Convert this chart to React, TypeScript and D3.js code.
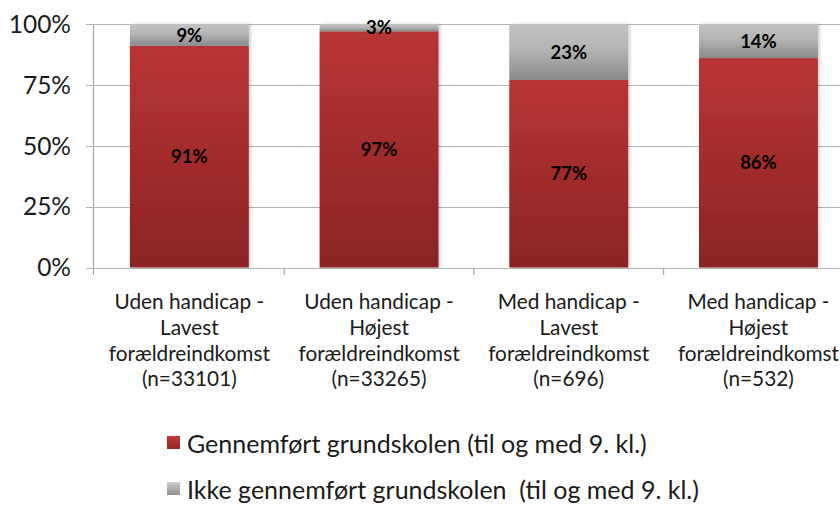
import React from "react";
import * as d3 from "d3";

const categories = [
  ["Uden handicap -", "Lavest", "forældreindkomst", "(n=33101)"],
  ["Uden handicap -", "Højest", "forældreindkomst", "(n=33265)"],
  ["Med handicap -", "Lavest", "forældreindkomst", "(n=696)"],
  ["Med handicap -", "Højest", "forældreindkomst", "(n=532)"],
];
const completed = [91, 97, 77, 86];
const notCompleted = [9, 3, 23, 14];
const yTicks = [0, 25, 50, 75, 100];
const seriesNames = [
  "Gennemført grundskolen (til og med 9. kl.)",
  "Ikke gennemført grundskolen  (til og med 9. kl.)",
];

const W = 840;
const H = 505;
const FONT = "Lato, 'Open Sans', sans-serif";

export default function App() {
  const x = d3
    .scaleBand<number>()
    .domain(d3.range(categories.length))
    .range([94.5, 94.5 + 189.7 * 4])
    .paddingInner(0.373)
    .paddingOuter(0.373 / 2);
  const y = d3.scaleLinear().domain([0, 100]).range([267.5, 24]);
  const stack = d3
    .stack<number>()
    .keys(["a", "b"])
    .value((i, k) => (k === "a" ? completed[i] : notCompleted[i]));
  const series = stack(d3.range(categories.length));
  const fills = ["url(#gRed)", "url(#gGray)"];
  const step = x.step();
  const x0 = 94.5;

  return (
    <svg width={W} height={H} style={{ position: "absolute", left: 0, top: 0, background: "#fff" }}>
      <defs>
        <linearGradient id="gRed" x1="0" y1="0" x2="0" y2="1">
          <stop offset="0" stopColor="#b93434" />
          <stop offset="1" stopColor="#8a2424" />
        </linearGradient>
        <linearGradient id="gGray" x1="0" y1="0" x2="0" y2="1">
          <stop offset="0" stopColor="#c2c2c2" />
          <stop offset="0.45" stopColor="#b4b4b4" />
          <stop offset="1" stopColor="#8a8a8a" />
        </linearGradient>
        <linearGradient id="gRedL" x1="0" y1="0" x2="0" y2="1">
          <stop offset="0" stopColor="#c03a3a" />
          <stop offset="1" stopColor="#922626" />
        </linearGradient>
        <linearGradient id="gGrayL" x1="0" y1="0" x2="0" y2="1">
          <stop offset="0" stopColor="#cfcfcf" />
          <stop offset="1" stopColor="#8d8d8d" />
        </linearGradient>
        <filter id="sh" x="-10%" y="-10%" width="130%" height="120%">
          <feDropShadow dx="2" dy="0" stdDeviation="1.5" floodColor="#000" floodOpacity="0.18" />
        </filter>
      </defs>
      {/* gridlines */}
      {yTicks.map((t) => (
        <line key={t} x1={86} x2={W} y1={Math.round(y(t)) + 0.5} y2={Math.round(y(t)) + 0.5} stroke="#b3b3b3" strokeWidth={1.2} />
      ))}
      {/* axes */}
      <line x1={93.5} x2={93.5} y1={24} y2={268} stroke="#a6a6a6" strokeWidth={1.2} />
      {d3.range(1, categories.length + 1).map((i) => (
        <line key={i} x1={x0 + step * i} x2={x0 + step * i} y1={268} y2={275} stroke="#a6a6a6" strokeWidth={1.2} />
      ))}
      <line x1={93.5} x2={93.5} y1={268} y2={275} stroke="#a6a6a6" strokeWidth={1.2} />
      {/* y labels */}
      {yTicks.map((t) => (
        <text key={t} x={71} y={y(t)} dy="0.36em" textAnchor="end" fontFamily={FONT} fontSize={24.5} fill="#1a1a1a">
          {t}%
        </text>
      ))}
      {/* bars */}
      {series.map((s, si) => (
        <g key={si} filter="url(#sh)">
          {s.map((d, i) => (
            <rect key={i} x={x(i)} width={x.bandwidth()} y={y(d[1])} height={y(d[0]) - y(d[1])} fill={fills[si]} />
          ))}
        </g>
      ))}
      {/* data labels */}
      {series.map((s, si) =>
        s.map((d, i) => (
          <text
            key={si + "-" + i}
            x={x(i)! + x.bandwidth() / 2}
            y={(y(d[0]) + y(d[1])) / 2}
            dy="0.36em"
            textAnchor="middle"
            fontFamily={FONT}
            fontWeight="bold"
            fontSize={18.5}
            fill="#000"
          >
            {(si === 0 ? completed[i] : notCompleted[i]) + "%"}
          </text>
        ))
      )}
      {/* category labels */}
      {categories.map((lines, i) => (
        <text key={i} x={x(i)! + x.bandwidth() / 2} textAnchor="middle" fontFamily={FONT} fontSize={20.8} fill="#1a1a1a">
          {lines.map((l, j) => (
            <tspan key={j} x={x(i)! + x.bandwidth() / 2} y={302 + j * 25.6} dy="0.36em">
              {l}
            </tspan>
          ))}
        </text>
      ))}
      {/* legend */}
      {seriesNames.map((n, i) => (
        <g key={i}>
          <rect x={167} y={436 + i * 46} width={13} height={13} fill={i === 0 ? "url(#gRedL)" : "url(#gGrayL)"} />
          <text
            x={187}
            y={444 + i * 46}
            dy="0.36em"
            fontFamily={FONT}
            fontSize={25}
            fill="#1a1a1a"
            style={{ whiteSpace: "pre" }}
          >
            {n}
          </text>
        </g>
      ))}
    </svg>
  );
}
